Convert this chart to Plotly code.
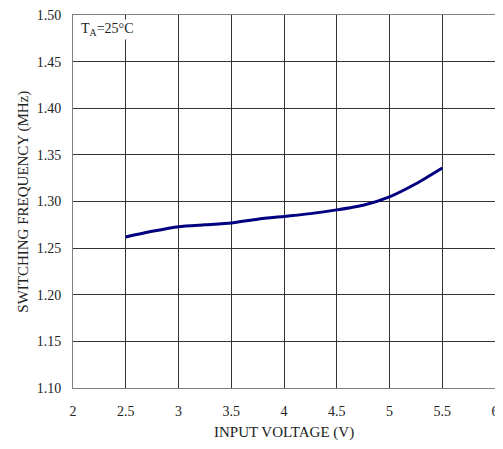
import plotly.graph_objects as go

voltage = [2.5, 2.75, 3.0, 3.25, 3.5, 3.75, 4.0, 4.25, 4.5, 4.75, 5.0, 5.25, 5.5]
freq_mhz = [1.262, 1.268, 1.273, 1.275, 1.277, 1.281, 1.284, 1.287, 1.291, 1.296, 1.305, 1.319, 1.336]

x_ticks = [2, 2.5, 3, 3.5, 4, 4.5, 5, 5.5, 6]
x_labels = ["2", "2.5", "3", "3.5", "4", "4.5", "5", "5.5", "6"]
y_ticks = [1.10, 1.15, 1.20, 1.25, 1.30, 1.35, 1.40, 1.45, 1.50]
y_labels = ["%.2f" % v for v in y_ticks]

font_family = "Liberation Serif, Times New Roman, serif"
txt = "#222"

fig = go.Figure()
fig.add_trace(go.Scatter(
    x=voltage, y=freq_mhz, mode="lines",
    line=dict(color="#000080", width=3, shape="spline", smoothing=0.6),
    showlegend=False, hoverinfo="skip"))

axis_common = dict(
    showgrid=True, gridcolor="#333", gridwidth=1,
    showline=True, linecolor="#808080", linewidth=1, mirror=True,
    zeroline=False, ticks="outside", ticklen=0, automargin=False,
    ticklabeloverflow="allow",
    tickfont=dict(size=14, family=font_family, color=txt),
)

# page body has an 8px default margin, so the figure is 8px smaller
fig.update_layout(
    width=495, height=441,
    margin=dict(l=65, r=8, t=7, b=61),
    paper_bgcolor="white", plot_bgcolor="white",
    font=dict(family=font_family, size=14, color=txt),
    xaxis=dict(range=[2, 6], tickvals=x_ticks, ticktext=x_labels,
               ticklabelstandoff=10, **axis_common),
    yaxis=dict(range=[1.10, 1.50], tickvals=y_ticks, ticktext=y_labels,
               ticklabelstandoff=8, **axis_common),
    annotations=[
        dict(x=0.015, y=0.99, xref="paper", yref="paper",
             xanchor="left", yanchor="top", showarrow=False,
             text="T<sub>A</sub>=25°C",
             font=dict(size=14, family=font_family, color=txt),
             bgcolor="white"),
        dict(x=0.5, y=-0.118, xref="paper", yref="paper",
             xanchor="center", yanchor="middle", showarrow=False,
             text="INPUT VOLTAGE (V)",
             font=dict(size=15, family=font_family, color=txt)),
        dict(x=-0.118, y=0.5, xref="paper", yref="paper",
             xanchor="center", yanchor="middle", showarrow=False,
             textangle=-90,
             text="SWITCHING FREQUENCY (MHz)",
             font=dict(size=15, family=font_family, color=txt)),
    ],
)

fig.write_html("out.html")
